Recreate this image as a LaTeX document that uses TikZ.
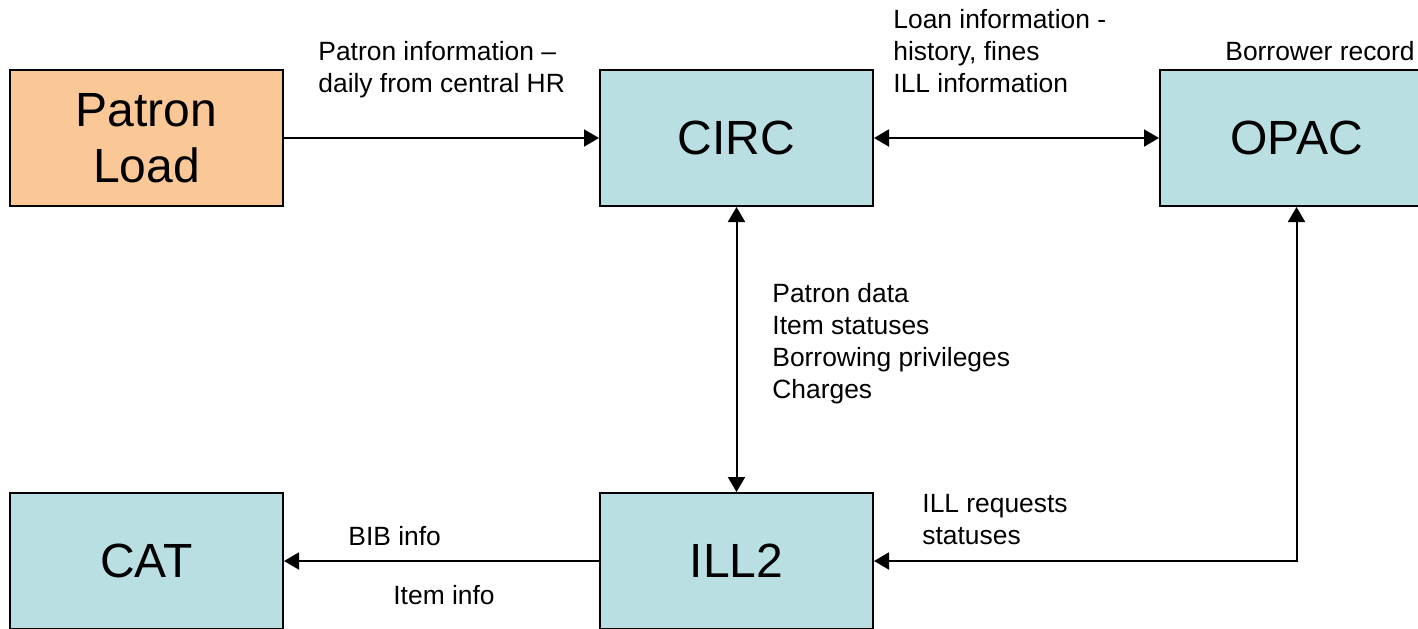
\documentclass[tikz,border=0pt]{standalone}
\usepackage{fontspec}
\setmainfont{Liberation Sans}
\usetikzlibrary{arrows.meta}
\definecolor{loadfill}{RGB}{250,200,150}
\definecolor{sysfill}{RGB}{185,223,226}

\begin{document}
\begin{tikzpicture}[x=0.5pt,y=-0.5pt,
  sysbox/.style={draw, line width=1pt, fill=sysfill, minimum width=136.5pt, minimum height=68pt, align=center, font=\fontsize{24}{28}\selectfont},
  flow/.style={line width=1pt, -{Triangle[length=7.5pt,width=8.5pt]}},
  both/.style={line width=1pt, {Triangle[length=7.5pt,width=8.5pt]}-{Triangle[length=7.5pt,width=8.5pt]}},
  note/.style={anchor=north west, inner sep=0pt, align=left, font=\fontsize{13.2}{16}\selectfont}]
\useasboundingbox (0,0) rectangle (1418,628);
\clip (0,0) rectangle (1418,628);
\node[sysbox, fill=loadfill] (load) at (146.5,138) {Patron\\Load};
\node[sysbox] (circ) at (736.5,138) {CIRC};
\node[sysbox] (opac) at (1296.5,138) {OPAC};
\node[sysbox] (cat) at (146.5,561) {CAT};
\node[sysbox] (ill) at (736.5,561) {ILL2};
\draw[flow] (load) -- (circ);
\draw[both] (circ) -- (opac);
\draw[both] (circ) -- (ill);
\draw[flow] (ill) -- (cat);
\draw[both] (opac.south) |- (ill.east);
\node[note] (LoadNote) at (318,41) {Patron information --\\daily from central HR};
\node[note] (LoanNote) at (893,9) {Loan information -\\history, fines\\ILL information};
\node[note] (BorrowNote) at (1225,41) {Borrower record};
\node[note] (DataNote) at (772,283) {Patron data\\Item statuses\\Borrowing privileges\\Charges};
\node[note] (ReqNote) at (922,494) {ILL requests\\statuses};
\node[note] (BibNote) at (348,526) {BIB info};
\node[note] (ItemNote) at (393,585) {Item info};
\end{tikzpicture}
\end{document}
